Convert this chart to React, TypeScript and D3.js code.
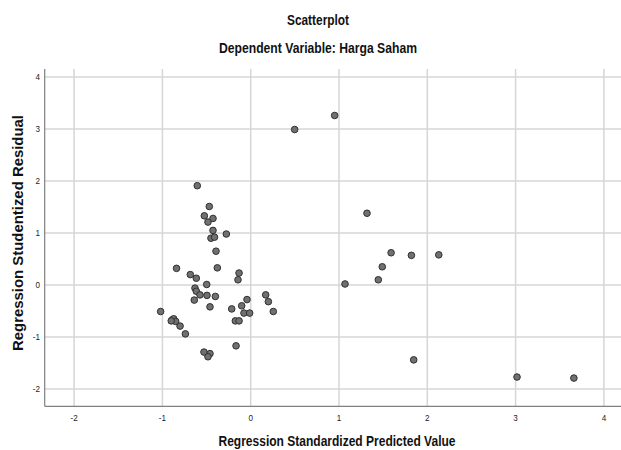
import React from "react";
import * as d3 from "d3";

const predicted = [
  -0.605, -0.469, -0.525, -0.427, -0.484, -0.427, -0.276, -0.45, -0.41, -0.393,
  -0.84, -0.378, -0.684, -0.616, -0.132, -0.144, -0.498, -0.631, -0.616, -0.574,
  -0.495, -0.4, -0.639, -0.461, -0.042, 0.17, 0.2, 0.256, -0.215, -0.102,
  -0.076, -0.012, -0.174, -0.132, -1.02, -0.888, -0.872, -0.85, -0.9, -0.8,
  -0.74, -0.166, -0.529, -0.461, -0.484, 0.498, 0.951, 1.317, 1.068, 1.445,
  1.49, 1.59, 1.82, 2.13, 1.846, 3.016, 3.66,
];
const residual = [
  1.91, 1.51, 1.33, 1.28, 1.21, 1.05, 0.98, 0.9, 0.92, 0.65,
  0.32, 0.33, 0.2, 0.13, 0.23, 0.1, 0.01, -0.06, -0.12, -0.19,
  -0.2, -0.22, -0.29, -0.42, -0.28, -0.19, -0.32, -0.51, -0.46, -0.4,
  -0.54, -0.54, -0.69, -0.69, -0.51, -0.67, -0.65, -0.7, -0.69, -0.79,
  -0.94, -1.17, -1.29, -1.32, -1.38, 2.99, 3.26, 1.38, 0.02, 0.1,
  0.35, 0.62, 0.57, 0.58, -1.44, -1.77, -1.79,
];
const xTicks = [-2, -1, 0, 1, 2, 3, 4];
const yTicks = [-2, -1, 0, 1, 2, 3, 4];

const W = 621;
const H = 450;
const left = 44.7;
const right = 630;
const top = 69;
const bottom = 406.3;
const font = "'Liberation Sans', Arial, sans-serif";

export default function App() {
  const x = d3.scaleLinear().domain([0, 1]).range([250.7, 339]);
  const y = d3.scaleLinear().domain([0, 1]).range([285, 233]);
  const pts = d3.zip(predicted, residual);
  const narrow = { lengthAdjust: "spacingAndGlyphs" as const };
  return (
    <svg width={W} height={H} style={{ position: "absolute", left: 0, top: 0, background: "#fff" }}>
      <rect x={0} y={0} width={W} height={H} fill="#fff" />
      <text x={318} y={25} textAnchor="middle" fontFamily={font} fontWeight="bold" fontSize={14} fill="#111" textLength={62} {...narrow}>Scatterplot</text>
      <text x={318} y={53} textAnchor="middle" fontFamily={font} fontWeight="bold" fontSize={14} fill="#111" textLength={198} {...narrow}>Dependent Variable: Harga Saham</text>
      {xTicks.map((t) => (
        <line key={"gx" + t} x1={x(t)} x2={x(t)} y1={top} y2={bottom} stroke="#d6d6d6" strokeWidth={1.5} />
      ))}
      {yTicks.map((t) => (
        <line key={"gy" + t} x1={left} x2={right} y1={y(t)} y2={y(t)} stroke="#d6d6d6" strokeWidth={1.5} />
      ))}
      <line x1={left} x2={left} y1={top} y2={bottom} stroke="#808080" strokeWidth={1.2} />
      <line x1={left} x2={right} y1={bottom} y2={bottom} stroke="#808080" strokeWidth={1.2} />
      {xTicks.map((t) => (
        <text key={"tx" + t} x={x(t)} y={421} textAnchor="middle" fontFamily={font} fontSize={9.5} fill="#222" transform={`translate(${x(t)},0) scale(0.85,1) translate(${-x(t)},0)`}>{t}</text>
      ))}
      {yTicks.map((t) => (
        <text key={"ty" + t} x={40} y={y(t) + 3.5} textAnchor="end" fontFamily={font} fontSize={9.5} fill="#222" transform={`translate(40,0) scale(0.85,1) translate(-40,0)`}>{t}</text>
      ))}
      {pts.map(([a, b], i) => (
        <circle key={i} cx={x(a)} cy={y(b)} r={3.3} fill="#707070" stroke="#303030" strokeWidth={1} />
      ))}
      <text x={337} y={446} textAnchor="middle" fontFamily={font} fontWeight="bold" fontSize={15} fill="#111" textLength={237} {...narrow}>Regression Standardized Predicted Value</text>
      <text transform={`translate(23,233) rotate(-90)`} textAnchor="middle" fontFamily={font} fontWeight="bold" fontSize={15} fill="#111" textLength={236} {...narrow}>Regression Studentized Residual</text>
    </svg>
  );
}
